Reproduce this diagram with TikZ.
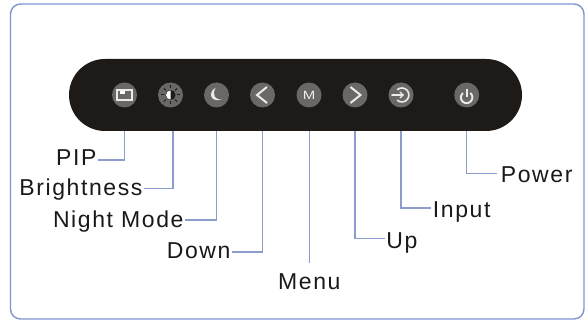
\documentclass[tikz,border=0pt]{standalone}
\usepackage{fontspec}
\setmainfont{Liberation Sans}[LetterSpace=7]
\usetikzlibrary{positioning}
\definecolor{framecol}{HTML}{7F94D0}
\definecolor{leadcol}{HTML}{8B9DCF}
\definecolor{panelcol}{HTML}{1E1A17}
\definecolor{btncol}{HTML}{6A6866}
\tikzset{lbl/.style = {anchor=base east, inner sep=0pt, outer sep=1.5pt, text=black!90,
                       font=\fontsize{23}{27}\selectfont},
         btn/.style = {circle, fill=btncol, minimum size=25pt, inner sep=0pt},
         lead/.style = {draw=leadcol, line width=1.2pt},
         icon/.style = {draw=white!92!black, line width=1.4pt, line cap=round}}

\begin{document}
\begin{tikzpicture}[x=1pt, y=1pt]
    \useasboundingbox (0, 0) rectangle (585, -320);
    \draw [framecol, line width=1.4pt, rounded corners=10pt] (10.5, -4) rectangle (584, -319);
    \node (panel) [fill=panelcol, rounded corners=36pt, minimum width=453pt, minimum height=72pt,
                   inner sep=0pt] at (295.5, -95) {};
    \node (pipbtn) [btn] at (124.5, -95) {};
    \node (brightbtn) [btn] at (170.5, -95) {};
    \node (nightbtn) [btn] at (216.5, -95) {};
    \node (downbtn) [btn] at (262.5, -95) {};
    \node (menubtn) [btn] at (309, -95) {};
    \node (upbtn) [btn] at (355, -95) {};
    \node (inputbtn) [btn] at (401, -95) {};
    \node (powerbtn) [btn] at (466.7, -95) {};
    % icons
    \draw [icon] ([shift={(-7.5, -5)}]pipbtn.center) rectangle ([shift={(7.5, 5)}]pipbtn.center);
    \fill [white] ([shift={(-5, 0.5)}]pipbtn.center) rectangle ([shift={(0.5, 3.5)}]pipbtn.center);
    \fill [panelcol] (brightbtn) circle (5pt);
    \fill [white] (brightbtn.center) ++(0, 4.5) arc (90:270:4.5) -- cycle;
    \foreach \a in {0, 45, ..., 315}
      \draw [panelcol, line width=1pt] (brightbtn.center) ++(\a:6.5) -- ++(\a:3);
    \fill [white!92!black] ([shift={(-1, 7)}]nightbtn.center)
      .. controls ([shift={(-9, 3)}]nightbtn.center) and ([shift={(-6, -9)}]nightbtn.center) .. ([shift={(6, -4)}]nightbtn.center)
      .. controls ([shift={(-1, -6)}]nightbtn.center) and ([shift={(-5, 0)}]nightbtn.center) .. ([shift={(-1, 7)}]nightbtn.center);
    \draw [icon, line width=2pt, line cap=butt] ([shift={(4.5, 8)}]downbtn.center)
      -- ([shift={(-5.5, 0)}]downbtn.center) -- ([shift={(4.5, -8)}]downbtn.center);
    \node (menuicon) [text=white!92!black, inner sep=0pt, xscale=1.25,
                      font=\fontsize{12}{12}\selectfont] at (menubtn) {M};
    \draw [icon, line width=2pt, line cap=butt] ([shift={(-4.5, 8)}]upbtn.center)
      -- ([shift={(5.5, 0)}]upbtn.center) -- ([shift={(-4.5, -8)}]upbtn.center);
    \draw [icon, line width=1.6pt] (inputbtn.center) ++(-3.6, 5.4) arc (130:-130:7);
    \draw [icon, line width=1.6pt] ([shift={(-9, 0)}]inputbtn.center) -- ([shift={(2, 0)}]inputbtn.center);
    \draw [icon, line width=1.2pt] ([shift={(-1, 3)}]inputbtn.center)
      -- ([shift={(2, 0)}]inputbtn.center) -- ([shift={(-1, -3)}]inputbtn.center);
    \draw [icon, line width=1.9pt, line cap=butt] (powerbtn.center) ++(3.6, 2.1) arc (50:-230:5.8);
    \draw [icon, line width=1.9pt, line cap=butt] ([shift={(0, 6)}]powerbtn.center) -- ([shift={(0, -2)}]powerbtn.center);
    % labels
    \node (pip) [lbl] at (98, -165.7) {PIP};
    \node (bright) [lbl] at (144, -195.7) {Brightness};
    \node (night) [lbl] at (185, -227.7) {Night Mode};
    \node (down) [lbl] at (232, -258) {Down};
    \node (menu) [lbl] at (342, -289) {Menu};
    \node (up) [lbl] at (419, -248) {Up};
    \node (input) [lbl] at (492, -217.7) {Input};
    \node (power) [lbl] at (574, -182.7) {Power};
    % leads
    \coordinate (brighttop) at (173, -131);
    \draw [lead] (pip.east |- 0, -160) -| (pipbtn |- panel.south);
    \draw [lead] (bright.east |- 0, -188.7) -| (brighttop);
    \draw [lead] (night.east |- 0, -220) -| (nightbtn |- panel.south);
    \draw [lead] (down.east |- 0, -252) -| (downbtn |- panel.south);
    \draw [lead, line width=1pt] (menubtn |- panel.south) -- (menubtn |- 0, -263);
    \draw [lead] (upbtn |- panel.south) |- (385, -238.7);
    \draw [lead] (inputbtn |- panel.south) |- (430.7, -208);
    \draw [lead] (powerbtn |- panel.south) |- (497, -173.3);
\end{tikzpicture}
\end{document}
